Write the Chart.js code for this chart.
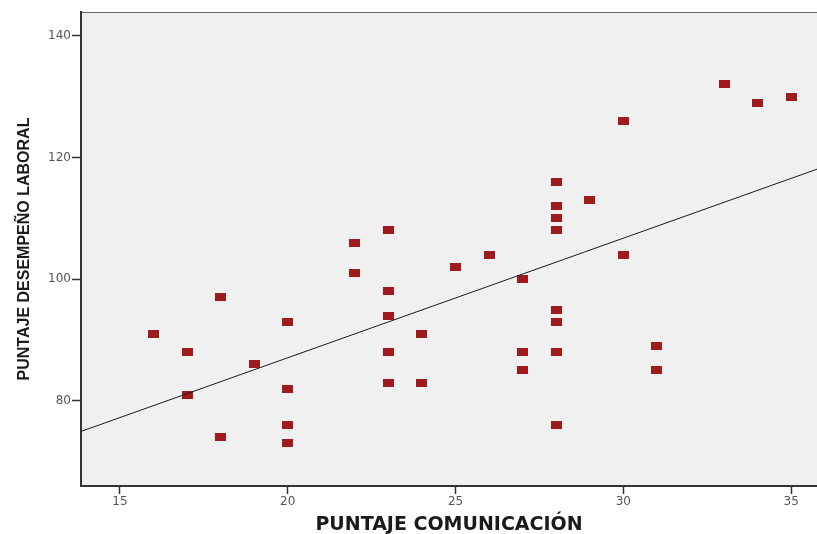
<!DOCTYPE html>
<html>
<head>
<meta charset="utf-8">
<script src="https://cdn.jsdelivr.net/npm/chart.js@4.4.1/dist/chart.umd.min.js"></script>
<style>
    html, body { margin: 0; padding: 0; background: #fff; }
    #wrap { width: 817px; height: 534px; }
</style>
</head>
<body>
<div id="wrap"><canvas id="myChart" width="817" height="534"></canvas></div>
<script>
"use strict";

// puntaje comunicación (x) y desempeño laboral (y)
const comunicacion = [16, 17, 17, 18, 18, 19, 20, 20, 20, 20, 22, 22, 23, 23, 23, 23, 23, 24, 24, 25,
    26, 27, 27, 27, 28, 28, 28, 28, 28, 28, 28, 28, 29, 30, 30, 31, 31, 33, 34, 35];
const desempeno = [91, 88, 81, 97, 74, 86, 93, 82, 76, 73, 106, 101, 108, 98, 94, 88, 83, 91, 83, 102,
    104, 100, 88, 85, 116, 112, 110, 108, 95, 93, 88, 76, 113, 126, 104, 89, 85, 132, 129, 130];
const xTicks = [15, 20, 25, 30, 35];
const yTicks = [80, 100, 120, 140];
const xRange = [13.84, 35.77];
const yRange = [66, 143.9];

// recta de regresión (mínimos cuadrados) calculada de los datos
const n = comunicacion.length;
const mx = comunicacion.reduce((a, b) => a + b, 0) / n;
const my = desempeno.reduce((a, b) => a + b, 0) / n;
let sxy = 0, sxx = 0;
for (let i = 0; i < n; i++) {
    sxy += (comunicacion[i] - mx) * (desempeno[i] - my);
    sxx += (comunicacion[i] - mx) * (comunicacion[i] - mx);
}
const slope = sxy / sxx;
const intercept = my - slope * mx;

const points = comunicacion.map((x, i) => ({x: x, y: desempeno[i]}));
const fitLine = xRange.map(x => ({x: x, y: intercept + slope * x}));

// marcador rectangular (como en SPSS)
const marker = document.createElement('canvas');
marker.width = 11;
marker.height = 8;
const mctx = marker.getContext('2d');
mctx.fillStyle = '#9e1a1d';
mctx.fillRect(0, 0, 11, 8);

// fondo gris del área del gráfico
const plotArea = {
    id: 'plotArea',
    beforeDraw(chart) {
        const {ctx, chartArea: a} = chart;
        ctx.save();
        ctx.fillStyle = '#f0f0f0';
        ctx.fillRect(a.left, a.top, a.width, a.height);
        ctx.strokeStyle = '#666';
        ctx.lineWidth = 1;
        ctx.strokeRect(a.left + 0.5, a.top + 0.5, a.width, a.height);
        ctx.restore();
    }
};

const tickFont = {family: "'DejaVu Sans', sans-serif", size: 12};

const ctx = document.getElementById('myChart');
const myChart = new Chart(ctx, {
    type: 'scatter',
    data: {
        datasets: [{
            type: 'line',
            data: fitLine,
            borderColor: '#1a1a1a',
            borderWidth: 1,
            pointRadius: 0,
            fill: false
        }, {
            data: points,
            pointStyle: marker,
            pointRadius: 5,
            backgroundColor: '#9e1a1d',
            borderWidth: 0
        }]
    },
    options: {
        responsive: false,
        animation: false,
        events: [],
        layout: {autoPadding: false, padding: {top: 12, right: 0, bottom: 0, left: 0}},
        plugins: {legend: {display: false}, tooltip: {enabled: false}},
        scales: {
            x: {
                type: 'linear',
                min: xRange[0],
                max: xRange[1],
                afterBuildTicks: s => { s.ticks = xTicks.map(v => ({value: v})); },
                afterFit: s => { s.height = 48; s.paddingLeft = 0; s.paddingRight = 0; },
                ticks: {color: '#555', font: tickFont, padding: 1, maxRotation: 0, autoSkip: false},
                grid: {drawOnChartArea: false, drawTicks: true, tickLength: 8, tickColor: '#333', tickWidth: 1.5},
                border: {display: true, color: '#333', width: 2},
                title: {display: true, text: 'PUNTAJE COMUNICACIÓN', color: '#1a1a1a',
                    font: {family: "'DejaVu Sans', sans-serif", size: 19, weight: 'bold'}, padding: {top: 0, bottom: -2}}
            },
            y: {
                type: 'linear',
                min: yRange[0],
                max: yRange[1],
                afterBuildTicks: s => { s.ticks = yTicks.map(v => ({value: v})); },
                afterFit: s => { s.width = 81; },
                ticks: {color: '#555', font: tickFont, padding: 1},
                grid: {drawOnChartArea: false, drawTicks: true, tickLength: 9, tickColor: '#333', tickWidth: 1.5},
                border: {display: true, color: '#333', width: 2},
                title: {display: true, text: 'PUNTAJE DESEMPEÑO LABORAL', color: '#1a1a1a',
                    font: {family: "'Liberation Sans', Arial, sans-serif", size: 16, weight: 'bold'}, padding: {top: 15, bottom: 0}}
            }
        }
    },
    plugins: [plotArea]
});
</script>
</body>
</html>
